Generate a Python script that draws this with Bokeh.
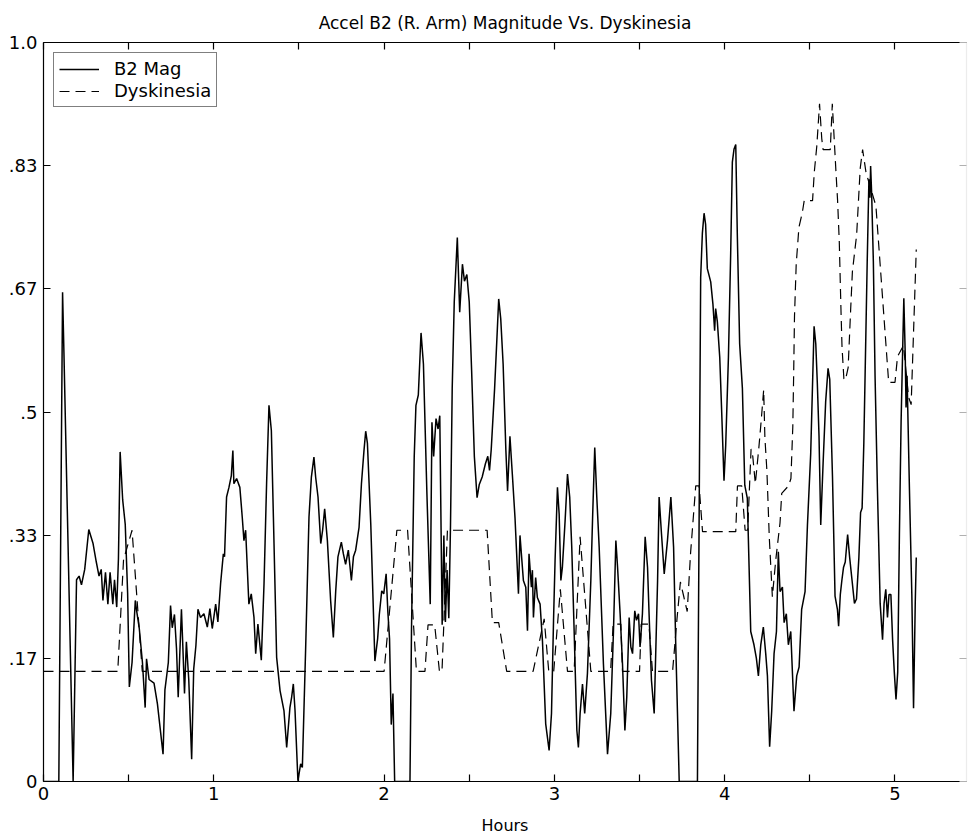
from bokeh.plotting import figure
from bokeh.models import LinearAxis, FixedTicker, Legend, LegendItem, ColumnDataSource
from bokeh.embed import file_html
from bokeh.resources import INLINE

FONT = "DejaVu Sans"

title_text = "Accel B2 (R. Arm) Magnitude Vs. Dyskinesia"
x_label = "Hours"
series_names = ["B2 Mag", "Dyskinesia"]

x_ticks = [0, 1, 2, 3, 4, 5]
x_tick_labels = ["0", "1", "2", "3", "4", "5"]
x_half_ticks = [0.5, 1.5, 2.5, 3.5, 4.5]
y_ticks = [0, 1 / 6, 1 / 3, 0.5, 2 / 3, 5 / 6, 1.0]
y_tick_labels = ["0", ".17", ".33", ".5", ".67", ".83", "1.0"]

b2_hours = [
    0.0, 0.09, 0.112, 0.12, 0.174, 0.194, 0.209, 0.223, 0.242, 0.266, 0.291, 0.31, 0.326, 0.339,
    0.349, 0.364, 0.378, 0.391, 0.407, 0.417, 0.43, 0.44, 0.45, 0.465, 0.48, 0.494, 0.504, 0.52,
    0.539, 0.547, 0.562, 0.581, 0.597, 0.605, 0.62, 0.649, 0.669, 0.702, 0.713, 0.733, 0.746,
    0.756, 0.769, 0.781, 0.791, 0.81, 0.818, 0.828, 0.839, 0.853, 0.87, 0.882, 0.895, 0.907,
    0.922, 0.942, 0.962, 0.977, 0.991, 1.011, 1.024, 1.04, 1.056, 1.063, 1.075, 1.089, 1.103,
    1.112, 1.118, 1.134, 1.153, 1.167, 1.177, 1.187, 1.206, 1.22, 1.236, 1.246, 1.259, 1.279,
    1.295, 1.31, 1.324, 1.338, 1.35, 1.369, 1.389, 1.412, 1.428, 1.447, 1.457, 1.467, 1.477,
    1.494, 1.51, 1.52, 1.539, 1.559, 1.573, 1.588, 1.598, 1.612, 1.628, 1.639, 1.651, 1.667,
    1.686, 1.702, 1.716, 1.729, 1.749, 1.761, 1.774, 1.79, 1.808, 1.82, 1.833, 1.853, 1.867,
    1.882, 1.892, 1.902, 1.922, 1.946, 1.962, 1.972, 1.986, 1.998, 2.012, 2.022, 2.032, 2.042,
    2.052, 2.062, 2.152, 2.161, 2.177, 2.187, 2.201, 2.217, 2.231, 2.251, 2.271, 2.281, 2.291,
    2.305, 2.317, 2.327, 2.341, 2.351, 2.36, 2.37, 2.38, 2.39, 2.4, 2.412, 2.43, 2.444, 2.46,
    2.472, 2.486, 2.5, 2.514, 2.53, 2.546, 2.559, 2.576, 2.595, 2.609, 2.619, 2.629, 2.649,
    2.663, 2.673, 2.685, 2.699, 2.715, 2.725, 2.739, 2.753, 2.769, 2.789, 2.798, 2.818, 2.832,
    2.842, 2.851, 2.865, 2.871, 2.877, 2.89, 2.9, 2.916, 2.93, 2.949, 2.969, 2.983, 2.995,
    3.004, 3.018, 3.028, 3.038, 3.047, 3.063, 3.077, 3.09, 3.102, 3.116, 3.132, 3.141, 3.151,
    3.165, 3.178, 3.194, 3.214, 3.225, 3.237, 3.249, 3.263, 3.288, 3.312, 3.331, 3.347, 3.361,
    3.371, 3.386, 3.4, 3.414, 3.425, 3.439, 3.449, 3.459, 3.472, 3.482, 3.494, 3.503, 3.517,
    3.533, 3.547, 3.556, 3.57, 3.586, 3.596, 3.606, 3.615, 3.629, 3.645, 3.664, 3.684, 3.7,
    3.713, 3.733, 3.84, 3.859, 3.869, 3.879, 3.888, 3.898, 3.918, 3.931, 3.941, 3.947, 3.957,
    3.971, 3.982, 3.996, 4.006, 4.022, 4.035, 4.045, 4.055, 4.065, 4.074, 4.088, 4.104, 4.118,
    4.133, 4.153, 4.172, 4.186, 4.198, 4.212, 4.227, 4.241, 4.251, 4.264, 4.276, 4.29, 4.304,
    4.315, 4.325, 4.339, 4.349, 4.362, 4.374, 4.388, 4.407, 4.423, 4.437, 4.452, 4.472, 4.486,
    4.505, 4.525, 4.535, 4.544, 4.554, 4.564, 4.578, 4.593, 4.607, 4.617, 4.633, 4.648, 4.662,
    4.669, 4.679, 4.688, 4.698, 4.708, 4.722, 4.734, 4.748, 4.762, 4.774, 4.788, 4.798, 4.807,
    4.817, 4.827, 4.837, 4.847, 4.853, 4.857, 4.863, 4.873, 4.883, 4.897, 4.913, 4.927, 4.936,
    4.946, 4.956, 4.965, 4.976, 4.986, 4.996, 5.006, 5.016, 5.026, 5.036, 5.046, 5.052, 5.06,
    5.065, 5.071, 5.085, 5.099, 5.109, 5.119, 5.125,
]
b2_mag = [
    0.0, 0.0, 0.662, 0.58, 0.0, 0.273, 0.278, 0.266, 0.287, 0.341, 0.322, 0.297, 0.278, 0.287,
    0.245, 0.283, 0.24, 0.283, 0.24, 0.273, 0.236, 0.301, 0.446, 0.381, 0.348, 0.255, 0.128, 0.161,
    0.245, 0.231, 0.208, 0.161, 0.10, 0.166, 0.138, 0.133, 0.105, 0.037, 0.124, 0.161, 0.238,
    0.208, 0.226, 0.18, 0.114, 0.233, 0.184, 0.119, 0.189, 0.138, 0.03, 0.152, 0.184, 0.233,
    0.222, 0.227, 0.209, 0.234, 0.207, 0.24, 0.216, 0.268, 0.308, 0.304, 0.385, 0.398, 0.414,
    0.448, 0.403, 0.41, 0.398, 0.358, 0.326, 0.34, 0.24, 0.254, 0.222, 0.173, 0.213, 0.164,
    0.268, 0.403, 0.509, 0.475, 0.358, 0.168, 0.123, 0.096, 0.046, 0.1, 0.114, 0.132, 0.096,
    0.001, 0.024, 0.019, 0.177, 0.358, 0.412, 0.439, 0.412, 0.385, 0.322, 0.34, 0.369, 0.326,
    0.245, 0.195, 0.258, 0.304, 0.324, 0.308, 0.294, 0.313, 0.272, 0.304, 0.313, 0.344, 0.403,
    0.448, 0.474, 0.458, 0.347, 0.163, 0.193, 0.226, 0.258, 0.254, 0.281, 0.23, 0.193, 0.077,
    0.119, 0.0, 0.0, 0.207, 0.44, 0.509, 0.523, 0.607, 0.565, 0.393, 0.24, 0.486, 0.44,
    0.491, 0.477, 0.495, 0.212, 0.333, 0.216, 0.286, 0.221, 0.347, 0.532, 0.649, 0.736, 0.635, 0.7,
    0.677, 0.686, 0.649, 0.556, 0.44, 0.384, 0.402, 0.412, 0.43, 0.44, 0.421, 0.449, 0.532,
    0.602, 0.653, 0.626, 0.565, 0.449, 0.393, 0.467, 0.416, 0.356, 0.254, 0.333, 0.272, 0.263,
    0.204, 0.308, 0.263, 0.286, 0.222, 0.276, 0.249, 0.24, 0.19, 0.078, 0.042, 0.092, 0.218,
    0.299, 0.398, 0.362, 0.272, 0.29, 0.353, 0.416, 0.385, 0.317, 0.204, 0.069, 0.046, 0.092,
    0.132, 0.092, 0.146, 0.272, 0.362, 0.452, 0.385, 0.317, 0.159, 0.037, 0.092, 0.204, 0.326,
    0.29, 0.227, 0.159, 0.069, 0.114, 0.222, 0.182, 0.173, 0.231, 0.218, 0.227, 0.182, 0.227,
    0.331, 0.29, 0.227, 0.137, 0.092, 0.182, 0.272, 0.385, 0.335, 0.281, 0.326, 0.385, 0.317,
    0.182, 0.0, 0.0, 0.682, 0.742, 0.769, 0.754, 0.694, 0.676, 0.646, 0.61, 0.64, 0.622,
    0.574, 0.503, 0.407, 0.455, 0.574, 0.712, 0.838, 0.856, 0.862, 0.742, 0.592, 0.532, 0.401,
    0.383, 0.203, 0.185, 0.167, 0.143, 0.185, 0.209, 0.173, 0.143, 0.047, 0.095, 0.173, 0.203,
    0.311, 0.257, 0.263, 0.215, 0.227, 0.185, 0.203, 0.095, 0.143, 0.155, 0.233, 0.257, 0.347,
    0.443, 0.616, 0.592, 0.539, 0.467, 0.347, 0.431, 0.514, 0.559, 0.544, 0.413, 0.251, 0.233,
    0.21, 0.253, 0.272, 0.29, 0.297, 0.334, 0.303, 0.272, 0.241, 0.247, 0.303, 0.364, 0.37,
    0.457, 0.58, 0.704, 0.815, 0.79, 0.833, 0.796, 0.704, 0.549, 0.395, 0.241, 0.192, 0.241,
    0.26, 0.222, 0.253, 0.253, 0.192, 0.148, 0.111, 0.148, 0.334, 0.488, 0.593, 0.654, 0.58,
    0.506, 0.549, 0.395, 0.253, 0.099, 0.241, 0.303,
]

dys_hours = [
    0.0, 0.436, 0.47, 0.52, 0.545, 0.58, 2.0, 2.075, 2.138, 2.19, 2.24, 2.258, 2.297, 2.325,
    2.34, 2.372, 2.605, 2.636, 2.673, 2.72, 2.875, 2.94, 2.967, 2.996, 3.035, 3.077, 3.116,
    3.151, 3.214, 3.33, 3.345, 3.39, 3.40, 3.50, 3.51, 3.555, 3.576, 3.694, 3.72, 3.74, 3.76,
    3.78, 3.80, 3.83, 3.85, 3.87, 4.065, 4.075, 4.10, 4.12, 4.135, 4.155, 4.165, 4.18, 4.20,
    4.215, 4.229, 4.236, 4.248, 4.262, 4.28, 4.30, 4.325, 4.335, 4.375, 4.389, 4.40, 4.405,
    4.41, 4.42, 4.436, 4.456, 4.467, 4.516, 4.526, 4.541, 4.557, 4.57, 4.578, 4.62, 4.632,
    4.653, 4.663, 4.673, 4.683, 4.689, 4.70, 4.709, 4.725, 4.74, 4.75, 4.775, 4.796, 4.81,
    4.83, 4.888, 4.963, 5.0, 5.015, 5.05, 5.08, 5.095, 5.125,
]
dys_level = [
    0.149, 0.149, 0.30, 0.34, 0.26, 0.149, 0.149, 0.34, 0.34, 0.149, 0.149, 0.212, 0.212, 0.149,
    0.149, 0.34, 0.34, 0.215, 0.215, 0.149, 0.149, 0.22, 0.149, 0.149, 0.26, 0.149, 0.149,
    0.331, 0.149, 0.149, 0.213, 0.213, 0.149, 0.149, 0.213, 0.213, 0.149, 0.149, 0.22, 0.27, 0.25,
    0.23, 0.31, 0.40, 0.40, 0.338, 0.338, 0.40, 0.40, 0.34, 0.34, 0.45, 0.44, 0.403, 0.45,
    0.49, 0.53, 0.466, 0.42, 0.33, 0.25, 0.30, 0.35, 0.39, 0.40, 0.41, 0.48, 0.55,
    0.63, 0.70, 0.75, 0.77, 0.786, 0.786, 0.824, 0.86, 0.917, 0.87, 0.855, 0.855, 0.917,
    0.827, 0.786, 0.73, 0.637, 0.588, 0.545, 0.543, 0.56, 0.64, 0.69, 0.74, 0.83, 0.855,
    0.824, 0.779, 0.54, 0.54, 0.575, 0.59, 0.52, 0.51, 0.72,
]

p = figure(
    width=969, height=837,
    x_range=(0, 5.42), y_range=(0, 1.0),
    output_backend="svg", toolbar_location=None,
    min_border_left=43, min_border_right=3, min_border_top=42, min_border_bottom=56,
    background_fill_color="white", border_fill_color="white",
)
p.outline_line_color = None
p.xgrid.visible = False
p.ygrid.visible = False

p.title.text = title_text
p.title.align = "center"
p.title.text_font = FONT
p.title.text_font_size = "17px"
p.title.text_font_style = "normal"
p.title.text_color = "black"
p.title.standoff = 20


def style_axis(ax, line_color="black", tick_color="black"):
    ax.major_tick_in = 7
    ax.major_tick_out = 0
    ax.minor_tick_in = 7
    ax.minor_tick_out = 0
    ax.axis_line_color = line_color
    ax.axis_line_width = 1.2
    ax.major_tick_line_color = tick_color
    ax.major_tick_line_width = 1.2
    ax.minor_tick_line_color = tick_color
    ax.minor_tick_line_width = 1.2
    ax.major_label_text_font = FONT
    ax.major_label_text_font_size = "18px"
    ax.major_label_text_color = "black"


xb = p.xaxis[0]
xb.ticker = FixedTicker(ticks=x_ticks, minor_ticks=x_half_ticks)
xb.major_label_overrides = dict(zip(x_ticks, x_tick_labels))
style_axis(xb)
xb.major_label_standoff = 5
xb.axis_label = x_label
xb.axis_label_text_font = FONT
xb.axis_label_text_font_size = "16px"
xb.axis_label_text_font_style = "normal"
xb.axis_label_text_color = "black"
xb.axis_label_standoff = 13

yl = p.yaxis[0]
yl.ticker = FixedTicker(ticks=y_ticks)
yl.major_label_overrides = dict(zip(y_ticks, y_tick_labels))
style_axis(yl)
yl.major_label_standoff = 6

# top frame edge: tick marks only, no labels
xt = LinearAxis(ticker=FixedTicker(ticks=[], minor_ticks=x_ticks + x_half_ticks))
style_axis(xt)
p.add_layout(xt, "above")

# right frame edge: faint, tick marks only
yr = LinearAxis(ticker=FixedTicker(ticks=[], minor_ticks=y_ticks))
style_axis(yr, line_color="#ececec", tick_color="#b0b0b0")
p.add_layout(yr, "right")

src_b2 = ColumnDataSource(data=dict(x=b2_hours, y=b2_mag))
src_dys = ColumnDataSource(data=dict(x=dys_hours, y=dys_level))

r_b2 = p.line("x", "y", source=src_b2, line_color="black", line_width=1.5)
r_dys = p.line("x", "y", source=src_dys, line_color="black", line_width=1.2, line_dash="10 6")

legend = Legend(
    items=[LegendItem(label=series_names[0], renderers=[r_b2]),
           LegendItem(label=series_names[1], renderers=[r_dys])],
    location="top_left",
    margin=10, padding=5, spacing=1,
    glyph_width=40, glyph_height=18, label_height=18, label_standoff=15,
    label_text_font=FONT, label_text_font_size="18px", label_text_color="black",
    border_line_color="black", border_line_width=1,
    background_fill_color="white", background_fill_alpha=1.0,
)
p.add_layout(legend)

open("out.html", "w").write(file_html(p, INLINE))
